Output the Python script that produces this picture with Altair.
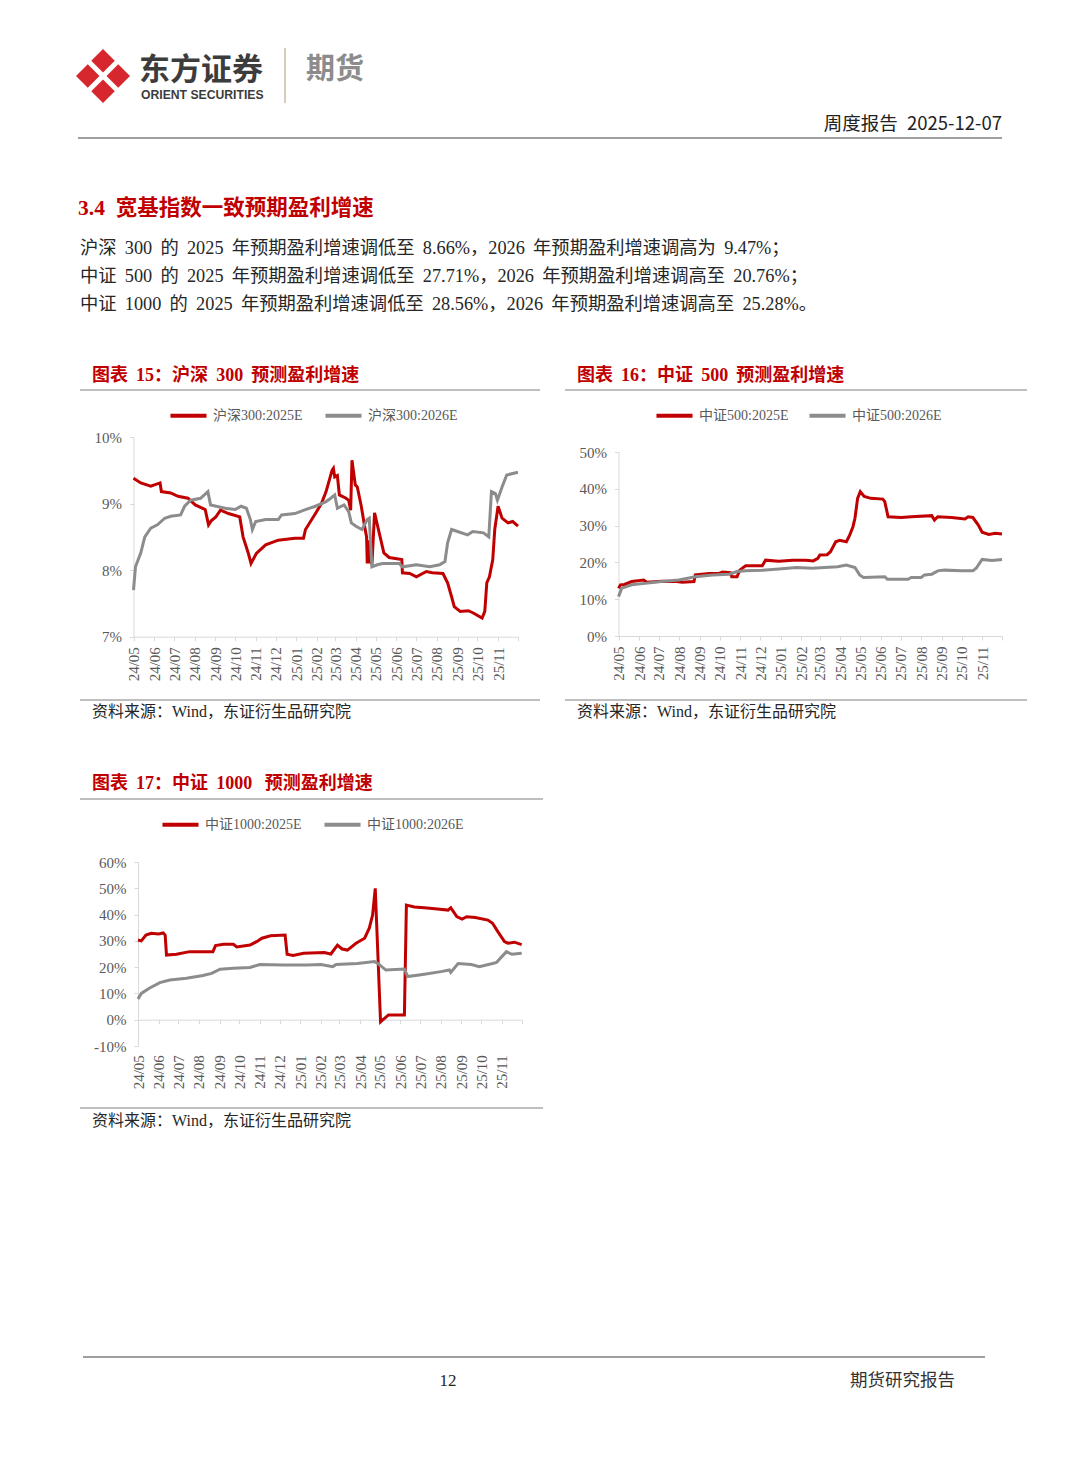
import altair as alt
import pandas as pd

W, H = 1064, 1390
SERIF = "Liberation Serif, Noto Sans CJK SC"
SANS = "Noto Sans CJK SC, Liberation Sans"
RED = "#C00000"
GRAY = "#8C8C8C"
AX = "#D9D9D9"
LBL = "#595959"
EN = "\u2002"
GAP = " \u2009"

MONTHS = ["2024-05", "2024-06", "2024-07", "2024-08", "2024-09", "2024-10", "2024-11", "2024-12",
          "2025-01", "2025-02", "2025-03", "2025-04", "2025-05", "2025-06", "2025-07", "2025-08",
          "2025-09", "2025-10", "2025-11", "2025-12"]

# ---- 沪深300 ----
hs_names = ["沪深300:2025E", "沪深300:2026E"]
hs25_d = ["2024-05-01", "2024-05-12", "2024-05-27", "2024-06-10", "2024-06-12", "2024-06-26", "2024-07-07",
          "2024-07-22", "2024-08-02", "2024-08-17", "2024-08-22", "2024-08-26", "2024-09-02", "2024-09-09",
          "2024-09-21", "2024-10-08", "2024-10-13", "2024-10-21", "2024-10-25", "2024-11-02", "2024-11-16",
          "2024-12-05", "2024-12-30", "2025-01-12", "2025-01-15", "2025-01-30", "2025-02-08", "2025-02-15",
          "2025-02-24", "2025-02-26", "2025-02-28", "2025-03-04", "2025-03-07", "2025-03-17", "2025-03-21",
          "2025-03-24", "2025-03-26", "2025-03-31", "2025-04-03", "2025-04-09", "2025-04-14", "2025-04-17",
          "2025-04-18", "2025-04-21", "2025-04-22", "2025-04-23", "2025-04-25", "2025-04-29", "2025-05-06",
          "2025-05-13", "2025-05-21", "2025-06-09", "2025-06-10", "2025-06-21", "2025-07-01", "2025-07-16",
          "2025-07-25", "2025-08-10", "2025-08-17", "2025-08-23", "2025-08-27", "2025-09-05", "2025-09-17",
          "2025-09-24", "2025-10-08", "2025-10-12", "2025-10-15", "2025-10-19", "2025-10-24", "2025-10-27",
          "2025-11-01", "2025-11-07", "2025-11-16", "2025-11-23", "2025-12-01"]
hs25_v = [9.38, 9.31, 9.26, 9.31, 9.18, 9.16, 9.11, 9.08, 8.98, 8.91, 8.68, 8.74, 8.80, 8.90, 8.85, 8.80,
          8.50, 8.25, 8.10, 8.25, 8.38, 8.45, 8.48, 8.48, 8.61, 8.85, 9.00, 9.18, 9.50, 9.53, 9.40, 9.42,
          9.13, 9.08, 9.05, 8.90, 9.65, 9.28, 9.25, 8.96, 8.66, 8.50, 8.10, 8.45, 8.10, 8.40, 8.08, 8.86,
          8.56, 8.26, 8.19, 8.16, 7.96, 7.95, 7.90, 7.98, 7.96, 7.95, 7.81, 7.60, 7.45, 7.38, 7.39, 7.36,
          7.28, 7.38, 7.81, 7.90, 8.16, 8.61, 8.96, 8.78, 8.71, 8.73, 8.66]
hs26_d = ["2024-05-01", "2024-05-04", "2024-05-12", "2024-05-18", "2024-05-27", "2024-06-06", "2024-06-17",
          "2024-06-26", "2024-07-11", "2024-07-17", "2024-07-26", "2024-08-10", "2024-08-21", "2024-08-25",
          "2024-09-16", "2024-10-01", "2024-10-10", "2024-10-18", "2024-10-24", "2024-10-27", "2024-11-01",
          "2024-11-16", "2024-12-05", "2024-12-10", "2024-12-30", "2025-01-15", "2025-01-30", "2025-02-15",
          "2025-02-22", "2025-02-28", "2025-03-04", "2025-03-14", "2025-03-21", "2025-03-25", "2025-04-01",
          "2025-04-10", "2025-04-18", "2025-04-21", "2025-04-25", "2025-05-03", "2025-05-11", "2025-06-05",
          "2025-06-10", "2025-07-01", "2025-07-21", "2025-08-05", "2025-08-13", "2025-08-17", "2025-08-23",
          "2025-09-01", "2025-09-16", "2025-09-24", "2025-10-10", "2025-10-18", "2025-10-22", "2025-10-28",
          "2025-10-31", "2025-11-07", "2025-11-14", "2025-12-01"]
hs26_v = [7.70, 8.05, 8.26, 8.50, 8.63, 8.68, 8.78, 8.81, 8.83, 8.96, 9.05, 9.08, 9.18, 8.98, 8.93, 8.91,
          8.96, 8.93, 8.76, 8.61, 8.73, 8.76, 8.76, 8.83, 8.85, 8.91, 8.96, 9.03, 9.08, 9.13, 8.93, 8.98,
          8.88, 8.71, 8.66, 8.61, 8.76, 8.78, 8.05, 8.08, 8.10, 8.10, 8.05, 8.08, 8.05, 8.08, 8.13, 8.41,
          8.61, 8.58, 8.53, 8.58, 8.56, 8.50, 9.18, 9.15, 9.05, 9.25, 9.43, 9.47]

# ---- 中证500 ----
zz5_names = ["中证500:2025E", "中证500:2026E"]
zz5_25_d = ["2024-05-01", "2024-05-04", "2024-05-10", "2024-05-21", "2024-06-08", "2024-06-13", "2024-07-05",
            "2024-07-28", "2024-08-05", "2024-08-23", "2024-08-25", "2024-09-15", "2024-09-30", "2024-10-05",
            "2024-10-17", "2024-10-19", "2024-10-27", "2024-10-31", "2024-11-09", "2024-12-04", "2024-12-09",
            "2024-12-29", "2025-01-19", "2025-02-08", "2025-02-19", "2025-02-26", "2025-03-01", "2025-03-12",
            "2025-03-17", "2025-03-25", "2025-03-31", "2025-04-10", "2025-04-15", "2025-04-20", "2025-04-23",
            "2025-04-27", "2025-05-01", "2025-05-07", "2025-05-17", "2025-06-04", "2025-06-07", "2025-06-12",
            "2025-07-02", "2025-07-17", "2025-08-17", "2025-08-21", "2025-08-26", "2025-09-16", "2025-10-06",
            "2025-10-11", "2025-10-18", "2025-10-26", "2025-11-01", "2025-11-11", "2025-11-21", "2025-12-01"]
zz5_25_v = [13.0, 13.9, 14.0, 14.8, 15.2, 14.6, 14.9, 14.8, 14.6, 14.8, 16.6, 17.0, 17.0, 17.4, 17.2, 16.1,
            16.1, 17.9, 19.1, 19.1, 20.6, 20.3, 20.6, 20.6, 20.4, 21.1, 22.0, 22.1, 22.9, 25.6, 26.0, 25.6,
            27.4, 29.7, 32.0, 37.4, 39.2, 37.9, 37.4, 37.2, 36.5, 32.4, 32.2, 32.4, 32.7, 31.5, 32.4, 32.2,
            31.8, 32.4, 32.2, 30.2, 28.2, 27.6, 27.9, 27.71]
zz5_26_d = ["2024-05-01", "2024-05-06", "2024-05-21", "2024-06-10", "2024-07-05", "2024-07-31", "2024-08-25",
            "2024-09-20", "2024-10-15", "2024-10-27", "2024-11-09", "2024-12-04", "2024-12-29", "2025-01-25",
            "2025-02-17", "2025-03-08", "2025-03-28", "2025-04-10", "2025-04-23", "2025-04-30", "2025-05-06",
            "2025-06-07", "2025-06-11", "2025-07-12", "2025-07-17", "2025-08-01", "2025-08-06", "2025-08-17",
            "2025-08-26", "2025-09-05", "2025-10-01", "2025-10-18", "2025-10-23", "2025-11-01", "2025-11-16",
            "2025-12-01"]
zz5_26_v = [10.7, 13.0, 13.9, 14.3, 14.8, 15.2, 16.1, 16.6, 16.8, 17.5, 17.7, 17.9, 18.2, 18.6, 18.4, 18.6,
            18.8, 19.3, 18.6, 16.6, 15.9, 16.1, 15.4, 15.4, 15.9, 15.9, 16.6, 16.8, 17.7, 17.9, 17.7, 17.7,
            18.4, 20.8, 20.5, 20.76]

# ---- 中证1000 ----
zz1_names = ["中证1000:2025E", "中证1000:2026E"]
zz1_25_d = ["2024-05-01", "2024-05-06", "2024-05-13", "2024-05-21", "2024-06-01", "2024-06-08", "2024-06-11",
            "2024-06-13", "2024-06-28", "2024-07-18", "2024-08-22", "2024-08-26", "2024-09-07", "2024-09-22",
            "2024-09-27", "2024-10-17", "2024-10-27", "2024-11-04", "2024-11-17", "2024-12-09", "2024-12-12",
            "2024-12-21", "2025-01-06", "2025-02-06", "2025-02-16", "2025-02-26", "2025-03-05", "2025-03-13",
            "2025-03-26", "2025-04-08", "2025-04-15", "2025-04-20", "2025-04-24", "2025-05-02", "2025-05-08",
            "2025-05-14", "2025-06-07", "2025-06-10", "2025-06-22", "2025-07-07", "2025-07-27", "2025-08-12",
            "2025-08-16", "2025-08-25", "2025-09-02", "2025-09-09", "2025-09-22", "2025-10-11", "2025-10-18",
            "2025-10-26", "2025-11-05", "2025-11-10", "2025-11-20", "2025-12-01"]
zz1_25_v = [30.3, 30.0, 32.2, 32.9, 32.6, 33.0, 32.2, 24.6, 24.9, 25.9, 25.9, 28.2, 28.7, 28.7, 27.7, 28.4,
            29.7, 31.0, 31.9, 32.2, 24.9, 24.4, 25.3, 25.6, 25.0, 28.4, 26.9, 26.5, 29.1, 31.0, 34.8, 39.8,
            50.0, -0.8, 0.5, 1.8, 1.8, 43.6, 42.9, 42.6, 42.1, 41.7, 42.6, 39.2, 38.3, 39.2, 38.9, 37.9,
            36.7, 33.5, 29.7, 29.1, 29.5, 28.56]
zz1_26_d = ["2024-05-01", "2024-05-06", "2024-05-18", "2024-06-03", "2024-06-18", "2024-07-13", "2024-08-07",
            "2024-08-20", "2024-09-02", "2024-09-22", "2024-10-17", "2024-11-01", "2024-12-07", "2025-01-11",
            "2025-02-01", "2025-02-19", "2025-02-24", "2025-03-28", "2025-04-23", "2025-04-28", "2025-05-10",
            "2025-06-07", "2025-06-12", "2025-07-07", "2025-08-01", "2025-08-14", "2025-08-16", "2025-08-27",
            "2025-09-16", "2025-09-28", "2025-10-18", "2025-10-24", "2025-11-01", "2025-11-08", "2025-11-16",
            "2025-12-01"]
zz1_26_v = [7.9, 10.0, 12.0, 14.1, 15.1, 15.8, 16.8, 17.6, 19.2, 19.6, 19.9, 21.0, 20.8, 20.8, 21.0, 20.2,
            21.0, 21.4, 22.1, 21.4, 18.9, 19.3, 16.4, 17.3, 18.3, 18.9, 18.0, 21.4, 21.0, 20.2, 21.4, 21.8,
            24.0, 25.9, 24.9, 25.28]

hs_y = [7, 8, 9, 10]
zz5_y = [0, 10, 20, 30, 40, 50]
zz1_y = [-10, 0, 10, 20, 30, 40, 50, 60]


def frame(d1, v1, d2, v2, names):
    a = pd.DataFrame({"date": [d + "T00:00:00" for d in d1], "value": v1, "series": names[0]})
    b = pd.DataFrame({"date": [d + "T00:00:00" for d in d2], "value": v2, "series": names[1]})
    return pd.concat([a, b], ignore_index=True)


def dt(s):
    y, m = s.split("-")
    return alt.DateTime(year=int(y), month=int(m), date=1)


TICKS = [dt(m) for m in MONTHS]
XDOM = [TICKS[0], TICKS[-1]]
XLABEL = "timeFormat(datum.value, '%y/%m') == '25/12' ? '' : timeFormat(datum.value, '%y/%m')"


def panel(df, names, xr, yr, ydom, yvals, x_axis_y, label_pad, lx, ly, colpad):
    return alt.Chart(df).mark_line(strokeWidth=3).encode(
        x=alt.X("date:T",
                scale=alt.Scale(domain=XDOM, range=xr),
                axis=alt.Axis(orient="bottom", offset=x_axis_y - H, values=TICKS, labelExpr=XLABEL,
                              labelAngle=270, labelFont=SERIF, labelFontSize=15, labelColor=LBL,
                              labelPadding=label_pad, labelFlush=False, labelOverlap=False,
                              tickSize=4, tickColor=AX, domainColor=AX, grid=False, title=None)),
        y=alt.Y("value:Q",
                scale=alt.Scale(domain=ydom, range=yr, nice=False, zero=False),
                axis=alt.Axis(orient="left", offset=-xr[0], values=yvals, labelExpr="datum.value + '%'",
                              labelFont=SERIF, labelFontSize=15, labelColor=LBL, labelPadding=8,
                              tickSize=4, tickColor=AX, domainColor=AX, grid=False, title=None)),
        color=alt.Color("series:N",
                        scale=alt.Scale(domain=names, range=[RED, GRAY]),
                        legend=alt.Legend(orient="none", legendX=lx, legendY=ly, direction="horizontal",
                                          title=None, symbolType="stroke", symbolSize=1300,
                                          symbolStrokeWidth=4, labelFont=SERIF, labelFontSize=14,
                                          labelColor=LBL, columnPadding=colpad, padding=0, labelOffset=4)),
        order=alt.Order("date:T"),
    )


c15 = panel(frame(hs25_d, hs25_v, hs26_d, hs26_v, hs_names), hs_names,
            [125.5, 510], [628.7, 429], [7, 10], hs_y, 628.7, 6, 160, 387, 14)
c16 = panel(frame(zz5_25_d, zz5_25_v, zz5_26_d, zz5_26_v, zz5_names), zz5_names,
            [610.5, 994], [628, 444], [0, 50], zz5_y, 628, 6, 646, 387, 12)
c17 = panel(frame(zz1_25_d, zz1_25_v, zz1_26_d, zz1_26_v, zz1_names), zz1_names,
            [130, 513.7], [1038, 854], [-10, 60], zz1_y, 1011.7, 31, 152, 796, 14)

BLANK = alt.Data(values=[{}])


def txt(s, x, y, size, color="#262626", weight="normal", font=SERIF, align="left"):
    return alt.Chart(BLANK).mark_text(text=s, align=align, baseline="middle", font=font, fontSize=size,
                                      fontWeight=weight, color=color).encode(x=alt.value(x), y=alt.value(y))


def rule(x1, y1, x2, y2, color, w=1.0):
    return alt.Chart(BLANK).mark_rule(color=color, strokeWidth=w).encode(
        x=alt.value(x1), y=alt.value(y1), x2=alt.value(x2), y2=alt.value(y2))


def sp(s, g=GAP):
    return s.replace(" ", g)


logo = alt.Chart(BLANK).mark_point(shape="diamond", filled=True, size=2916, color="#D6262E", opacity=1,
                                   strokeOpacity=0).encode(x=alt.value(95), y=alt.value(68))

decos = [
    logo,
    rule(78, 51, 112, 85, "white", 5),
    rule(112, 51, 78, 85, "white", 5),
    txt("东方证券", 131, 63, 31, "#3C3C3C", "bold", SANS),
    txt("ORIENT SECURITIES", 133, 87, 12.2, "#3C3C3C", "bold", "Liberation Sans"),
    rule(277, 40, 277, 95, "#C8BD9F", 1.5),
    txt("期货", 298, 62, 29, "#8C8C8C", "bold", SANS),
    txt(sp("周度报告 2025-12-07", EN), 994, 116, 18.5, "#222222", "normal", SANS, "right"),
    rule(70, 130, 994, 130, "#404040", 1),
    txt(sp("3.4 宽基指数一致预期盈利增速", EN), 70, 201, 21.5, RED, "bold"),
    txt(sp("沪深 300 的 2025 年预期盈利增速调低至 8.66%，2026 年预期盈利增速调高为 9.47%；"), 72, 241, 18.3),
    txt(sp("中证 500 的 2025 年预期盈利增速调低至 27.71%，2026 年预期盈利增速调高至 20.76%；"), 72, 269, 18.3),
    txt(sp("中证 1000 的 2025 年预期盈利增速调低至 28.56%，2026 年预期盈利增速调高至 25.28%。"), 72, 297, 18.3),
    txt(sp("图表 15：沪深 300 预测盈利增速"), 84, 368, 18, RED, "bold"),
    rule(72, 382, 532, 382, "#7F7F7F", 1),
    txt(sp("图表 16：中证 500 预测盈利增速"), 569, 368, 18, RED, "bold"),
    rule(557, 382, 1019, 382, "#7F7F7F", 1),
    rule(72, 692, 532, 692, "#7F7F7F", 1),
    rule(557, 692, 1019, 692, "#7F7F7F", 1),
    txt("资料来源：Wind，东证衍生品研究院", 84, 704, 16),
    txt("资料来源：Wind，东证衍生品研究院", 569, 704, 16),
    txt("图表" + GAP + "17：中证" + GAP + "1000" + EN + "\u2009" + "预测盈利增速", 84, 776, 18, RED, "bold"),
    rule(72, 791, 535, 791, "#7F7F7F", 1),
    rule(72, 1100, 535, 1100, "#7F7F7F", 1),
    txt("资料来源：Wind，东证衍生品研究院", 84, 1113, 16),
    rule(75, 1349, 977, 1349, "#404040", 1),
    txt("12", 440, 1373, 17, "#262626", "normal", SERIF, "center"),
    txt("期货研究报告", 842, 1373, 17.5, "#333333"),
]

chart = alt.layer(*decos, c15, c16, c17).resolve_scale(
    x="independent", y="independent", color="independent"
).properties(width=W, height=H, padding=0).configure_view(stroke=None)

chart.save("out.html", embed_options={"renderer": "svg", "actions": False})
